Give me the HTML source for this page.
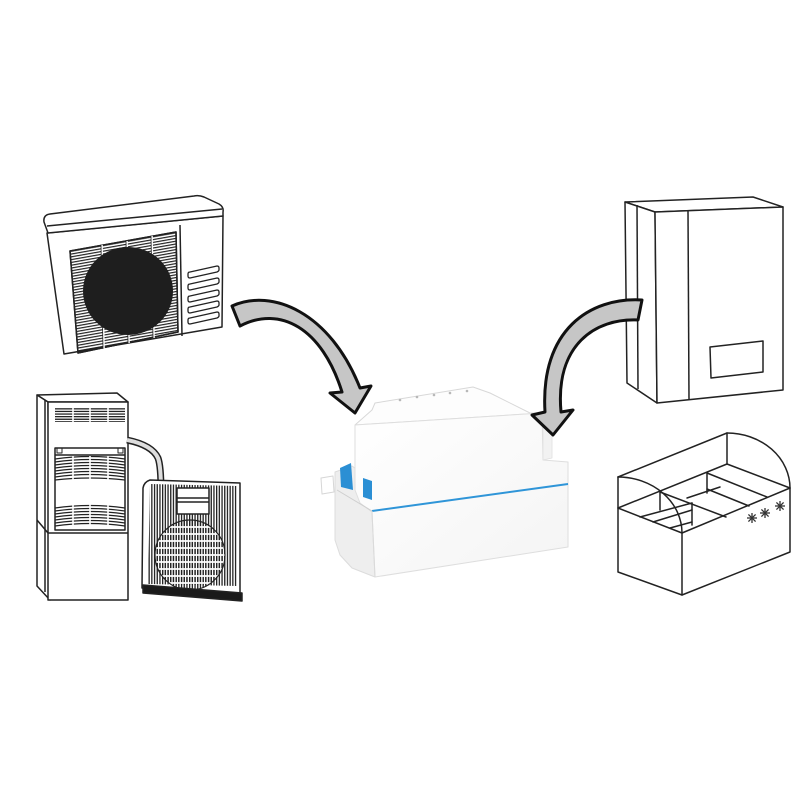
<!DOCTYPE html>
<html><head><meta charset="utf-8"><style>
html,body{margin:0;padding:0;background:#fff;}
svg{display:block;}
</style></head><body>
<svg width="800" height="800" viewBox="0 0 800 800" xmlns="http://www.w3.org/2000/svg">
<defs>
  <pattern id="hl" width="300" height="2.8" patternUnits="userSpaceOnUse" patternTransform="skewY(-10)">
    <rect x="0" y="0" width="300" height="1.2" fill="#222"/>
  </pattern>
  <pattern id="hl2" width="300" height="2.6" patternUnits="userSpaceOnUse">
    <rect x="0" y="0" width="300" height="1.3" fill="#222"/>
  </pattern>
  <pattern id="vl" width="2.7" height="300" patternUnits="userSpaceOnUse">
    <rect x="0" y="0" width="1.3" height="300" fill="#222"/>
  </pattern>
  <clipPath id="fanclip"><circle cx="190" cy="555" r="35"/></clipPath>
  <linearGradient id="pumpFront" x1="0" y1="0" x2="1" y2="1">
    <stop offset="0" stop-color="#ffffff"/>
    <stop offset="1" stop-color="#f4f4f4"/>
  </linearGradient>
  <g id="flake">
    <line x1="-5" y1="0" x2="5" y2="0"/><line x1="0" y1="-5" x2="0" y2="5"/>
    <line x1="-3.6" y1="-3.6" x2="3.6" y2="3.6"/><line x1="-3.6" y1="3.6" x2="3.6" y2="-3.6"/>
    <circle cx="0" cy="0" r="1.5" fill="#333" stroke="none"/>
  </g>
</defs>

<!-- ============ AC outdoor unit (top-left) ============ -->
<g stroke="#222" stroke-width="1.5" fill="none" stroke-linejoin="round">
  <path d="M47,233 L223,216 L222,327 L64,354 Z" fill="#fff"/>
  <path d="M48,233 L44,222 Q43,215 50,214 L194,196 Q199,195 204,197 L219,204 Q224,207 223,212 L223,216 Z" fill="#fff"/>
  <path d="M47,226 L222,209"/>
  <path d="M70,251 L176,232 L178,332 L78,353 Z" fill="url(#hl)"/>
  <path d="M70,251 L176,232 L178,332 L78,353 Z"/>
  <g stroke="#fff" stroke-width="1.6">
    <line x1="102" y1="245" x2="104" y2="349"/>
    <line x1="127" y1="241" x2="129" y2="343"/>
    <line x1="152" y1="236" x2="154" y2="338"/>
  </g>
  <g stroke-width="0.8">
    <line x1="101" y1="245" x2="103" y2="349"/>
    <line x1="126" y1="241" x2="128" y2="343"/>
    <line x1="151" y1="236" x2="153" y2="338"/>
  </g>
  <ellipse cx="128" cy="291" rx="45" ry="44" fill="#1e1e1e" stroke="none"/>
  <line x1="180" y1="225" x2="182" y2="336"/>
  <g stroke-width="1.3">
    <path d="M190,272 L217,266 Q219,266 219,268 L219,270 Q219,271 217,272 L190,278 Q188,278 188,276 L188,274 Q188,272 190,272 Z"/>
    <path d="M190,284 L217,278 Q219,278 219,280 L219,282 Q219,283 217,284 L190,290 Q188,290 188,288 L188,286 Q188,284 190,284 Z"/>
    <path d="M190,296 L217,290 Q219,290 219,292 L219,294 Q219,295 217,296 L190,302 Q188,302 188,300 L188,298 Q188,296 190,296 Z"/>
    <path d="M190,307 L217,301 Q219,301 219,303 L219,305 Q219,306 217,307 L190,313 Q188,313 188,311 L188,309 Q188,307 190,307 Z"/>
    <path d="M190,318 L217,312 Q219,312 219,314 L219,316 Q219,317 217,318 L190,324 Q188,324 188,322 L188,320 Q188,318 190,318 Z"/>
  </g>
</g>

<!-- ============ Server cabinet (bottom-left) ============ -->
<g stroke="#222" stroke-width="1.5" fill="none" stroke-linejoin="round">
  <path d="M37,395 L117,393 L128,402 L48,402 Z" fill="#fff"/>
  <path d="M37,395 L48,402 L50,600 L37,586 Z" fill="#fff"/>
  <line x1="45" y1="400" x2="45" y2="592"/>
  <rect x="48" y="402" width="80" height="198" fill="#fff"/>
  <line x1="48" y1="533" x2="128" y2="533"/>
  <line x1="37" y1="520" x2="48" y2="533"/>
  <rect x="55" y="407" width="70" height="15" fill="url(#hl2)" stroke="none"/>
  <g stroke="#fff" stroke-width="1.6">
    <line x1="73" y1="406" x2="73" y2="423"/>
    <line x1="90" y1="406" x2="90" y2="423"/>
    <line x1="108" y1="406" x2="108" y2="423"/>
  </g>
  <rect x="55" y="448" width="70" height="82" fill="#fff"/>
  <line x1="55" y1="455" x2="125" y2="455"/>
  <rect x="57" y="448" width="5" height="5" stroke-width="1"/>
  <rect x="118" y="448" width="5" height="5" stroke-width="1"/>
  <g stroke-width="1.3">
    <path d="M55,459 Q90,454 125,459"/>
    <path d="M55,462 Q90,457 125,462"/>
    <path d="M55,465 Q90,460 125,465"/>
    <path d="M55,468 Q90,463 125,468"/>
    <path d="M55,471 Q90,466 125,471"/>
    <path d="M55,474 Q90,469 125,474"/>
    <path d="M55,477 Q90,472 125,477"/>
    <path d="M55,480 Q90,476 125,480"/>
    <path d="M55,508 Q90,503 125,508"/>
    <path d="M55,511 Q90,506 125,511"/>
    <path d="M55,514 Q90,509 125,514"/>
    <path d="M55,517 Q90,512 125,517"/>
    <path d="M55,520 Q90,515 125,520"/>
    <path d="M55,523 Q90,518 125,523"/>
    <path d="M55,526 Q90,521 125,526"/>
  </g>
  <g stroke="#fff" stroke-width="1.6">
    <line x1="73" y1="456" x2="73" y2="480"/>
    <line x1="90" y1="456" x2="90" y2="480"/>
    <line x1="108" y1="456" x2="108" y2="480"/>
    <line x1="73" y1="504" x2="73" y2="529"/>
    <line x1="90" y1="504" x2="90" y2="529"/>
    <line x1="108" y1="504" x2="108" y2="529"/>
  </g>
</g>

<path d="M127,440 Q152,445 158,458 Q161,466 161,492" fill="none" stroke="#222" stroke-width="7"/>
<path d="M127,440 Q152,445 158,458 Q161,466 161,492" fill="none" stroke="#ddd" stroke-width="4"/>

<!-- ============ Condenser ============ -->
<g stroke="#222" stroke-width="1.5" fill="none" stroke-linejoin="round">
  <path d="M150,480 L240,483 L240,598 L142,588 L143,488 Q144,482 150,480 Z" fill="#fff"/>
  <path d="M150,484 L237,486 L237,586 L148,584 Z" fill="url(#vl)" stroke="none"/>
  <g clip-path="url(#fanclip)">
    <rect x="150" y="515" width="85" height="80" fill="url(#vl)"/>
    <g stroke="#fff" stroke-width="1.8">
      <line x1="150" y1="527" x2="235" y2="527"/>
      <line x1="150" y1="534" x2="235" y2="534"/>
      <line x1="150" y1="541" x2="235" y2="541"/>
      <line x1="150" y1="548" x2="235" y2="548"/>
      <line x1="150" y1="555" x2="235" y2="555"/>
      <line x1="150" y1="562" x2="235" y2="562"/>
      <line x1="150" y1="569" x2="235" y2="569"/>
      <line x1="150" y1="576" x2="235" y2="576"/>
      <line x1="150" y1="583" x2="235" y2="583"/>
    </g>
  </g>
  <circle cx="190" cy="555" r="35" stroke-width="1.2"/>
  <rect x="177" y="488" width="32" height="26" fill="#fff"/>
  <line x1="177" y1="498" x2="209" y2="498"/>
  <line x1="177" y1="502" x2="209" y2="502"/>
  <path d="M143,585 L242,593 L242,601 L143,593 Z" fill="#1a1a1a"/>
</g>

<!-- ============ Boiler (top-right) ============ -->
<g stroke="#222" stroke-width="1.5" fill="#fff" stroke-linejoin="round">
  <path d="M625,202 L753,197 L783,207 L655,212 Z"/>
  <path d="M625,202 L655,212 L657,403 L627,383 Z"/>
  <path d="M655,212 L783,207 L783,390 L657,403 Z"/>
  <line x1="637" y1="205" x2="638" y2="389"/>
  <line x1="688" y1="211" x2="689" y2="400"/>
  <path d="M710,347 L763,341 L763,372 L711,378 Z"/>
</g>

<!-- ============ Fridge box (bottom-right) ============ -->
<g stroke="#222" stroke-width="1.5" fill="none" stroke-linejoin="round" stroke-linecap="round">
  <path d="M618,508 L682,533 L790,488 L790,552 L682,595 L618,572 Z" fill="#fff"/>
  <line x1="618" y1="477" x2="727" y2="433"/>
  <line x1="727" y1="433" x2="727" y2="464"/>
  <path d="M727,433 A63,55 0 0 1 790,488"/>
  <path d="M618,477 A64,56 0 0 1 682,533"/>
  <line x1="618" y1="477" x2="618" y2="508"/>
  <line x1="618" y1="508" x2="727" y2="464"/>
  <line x1="727" y1="464" x2="790" y2="488"/>
  <line x1="682" y1="533" x2="682" y2="595"/>
  <line x1="660" y1="492" x2="660" y2="510"/>
  <line x1="707" y1="473" x2="707" y2="493"/>
  <line x1="707" y1="473" x2="767" y2="497"/>
  <line x1="707" y1="489" x2="749" y2="506"/>
  <line x1="660" y1="492" x2="726" y2="517"/>
  <line x1="692" y1="503" x2="692" y2="525"/>
  <line x1="640" y1="517" x2="692" y2="503"/>
  <line x1="653" y1="522" x2="692" y2="510"/>
  <line x1="670" y1="528" x2="692" y2="522"/>
  <line x1="687" y1="498" x2="720" y2="487"/>
</g>
<g stroke="#333" stroke-width="1.3">
  <use href="#flake" transform="translate(752,518)"/>
  <use href="#flake" transform="translate(765,513)"/>
  <use href="#flake" transform="translate(780,506)"/>
</g>

<!-- ============ Pump (center) ============ -->
<g stroke-linejoin="round">
  <path d="M372,410 L375,403 L473,387 L490,393 L530,413 L542,413 L355,425 Z" fill="#fdfdfd" stroke="#d8d8d8" stroke-width="1"/>
  <g fill="#b8b8b8">
    <circle cx="400" cy="400" r="1.3"/><circle cx="417" cy="397" r="1.3"/>
    <circle cx="434" cy="395" r="1.3"/><circle cx="450" cy="393" r="1.3"/>
    <circle cx="467" cy="391" r="1.3"/>
  </g>
  <path d="M335,472 L352,466 L372,480 L372,512 L375,577 L352,568 L340,555 L335,540 Z" fill="#eeeeee" stroke="#dcdcdc" stroke-width="1"/>
  <path d="M355,425 L542,413 L543,460 L568,462 L568,547 L375,577 L372,512 L360,503 L355,490 Z" fill="url(#pumpFront)" stroke="#dedede" stroke-width="1"/>
  <path d="M543,413 L552,418 L552,458 L543,460 Z" fill="#f2f2f2" stroke="#e0e0e0" stroke-width="0.8"/>
  <path d="M340,468 L351,463 L353,490 L341,487 Z" fill="#2b8fd4"/>
  <path d="M363,478 L372,481 L372,500 L363,497 Z" fill="#2b8fd4"/>
  <path d="M321,478 L333,476 L334,492 L322,494 Z" fill="#fff" stroke="#d6d6d6" stroke-width="1"/>
  <line x1="372" y1="511" x2="568" y2="484" stroke="#2f95d8" stroke-width="2"/>
  <line x1="337" y1="490" x2="372" y2="511" stroke="#cfcfcf" stroke-width="1"/>
  <line x1="372" y1="511" x2="375" y2="577" stroke="#dadada" stroke-width="1"/>
</g>

<!-- ============ Arrows ============ -->
<path d="M232,306 C272,288 330,312 360,388 L371,386 L355,413 L330,393 L342,392 C322,328 280,305 240,326 Z"
  fill="#c6c6c6" stroke="#111" stroke-width="3" stroke-linejoin="round"/>
<path d="M642,300 C590,297 540,330 545,412 L532,415 L553,435 L573,410 L561,412 C555,345 595,318 638,320 Z"
  fill="#c6c6c6" stroke="#111" stroke-width="3" stroke-linejoin="round"/>
</svg>
</body></html>
